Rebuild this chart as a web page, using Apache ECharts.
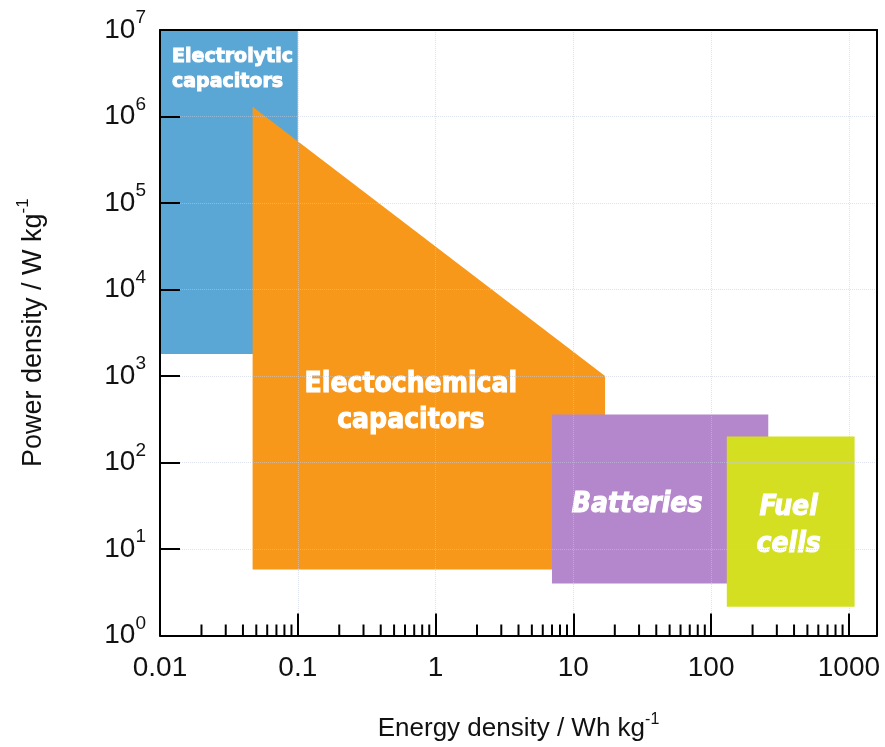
<!DOCTYPE html>
<html>
<head>
<meta charset="utf-8">
<title>Ragone plot</title>
<script src="https://cdn.jsdelivr.net/npm/echarts@6/dist/echarts.min.js"></script>
<style>
  html, body { margin: 0; padding: 0; background: #fff; }
  #chart { width: 885px; height: 747px; }
</style>
</head>
<body>
<div id="chart"></div>
<script>
// Energy-storage technologies: corners of each region as [energy Wh/kg, power W/kg]
const regionNames = ['Electrolytic\ncapacitors', 'Electochemical\ncapacitors', 'Batteries', 'Fuel\ncells'];
const electrolyticCapacitors = [[0.01, 1e7], [0.1, 1e7], [0.1, 1800], [0.01, 1800]];
const electrochemicalCapacitors = [[0.047, 1.3e6], [17, 1000], [17, 5.8], [0.047, 5.8]];
const batteries = [[7, 360], [260, 360], [260, 4], [7, 4]];
const fuelCells = [[130, 200], [1100, 200], [1100, 2.15], [130, 2.15]];
const regionVertices = [electrolyticCapacitors, electrochemicalCapacitors, batteries, fuelCells];

// Axis ranges and the in-between log ticks on the energy axis
const energyRange = [0.01, 1600];
const powerRange = [1, 1e7];
const minorTickDecades = [0.01, 0.1, 1, 10, 100];
const minorTickMultipliers = [2, 3, 4, 5, 6, 7, 8, 9];

const regionColors = ['#5aa7d6', '#f8981a', '#b486cc', '#d3df20'];
// text placement relative to each region's pixel bounding box
const regionLabelStyle = [
  { anchor: 'topleft', dx: 12, dy: 15, size: 19, lh: 25, family: '"DejaVu Sans"', italic: false },
  { anchor: 'center', dx: -18, dy: 65, size: 28, lh: 36, family: '"DejaVu Sans Condensed"', italic: false },
  { anchor: 'center', dx: -23, dy: 6, size: 28, lh: 36, family: '"DejaVu Sans Condensed"', italic: true },
  { anchor: 'center', dx: -2, dy: 5, size: 28, lh: 37, family: '"DejaVu Sans Condensed"', italic: true }
];

const minorTicks = [];
minorTickDecades.forEach(d => minorTickMultipliers.forEach(m => minorTicks.push(+(d * m).toPrecision(6))));

const labelFont = '"Liberation Sans", Arial, sans-serif';
const gridLine = { show: true, lineStyle: { color: '#c3cbdc', type: 'dotted', width: 1, opacity: 0.55 } };

function isDecade(v) {
  const e = Math.log10(v);
  return Math.abs(e - Math.round(e)) < 1e-6;
}

const chart = echarts.init(document.getElementById('chart'), null, { renderer: 'canvas' });

const option = {
  animation: false,
  backgroundColor: '#ffffff',
  grid: { left: 160, right: 8, top: 30, bottom: 110, containLabel: false },
  xAxis: [{
    type: 'log',
    logBase: 10,
    min: energyRange[0],
    max: energyRange[1],
    z: 5,
    name: 'Energy density / Wh kg{s|-1}',
    nameLocation: 'middle',
    nameGap: 76,
    nameTextStyle: {
      fontFamily: labelFont, fontSize: 26, color: '#111',
      rich: { s: { fontFamily: labelFont, fontSize: 16, color: '#111', padding: [0, 0, 19, 0] } }
    },
    axisLine: { show: true, lineStyle: { color: '#000', width: 2 } },
    axisTick: { show: true, inside: true, length: 22, lineStyle: { color: '#000', width: 2 } },
    splitLine: gridLine,
    axisLabel: {
      margin: 19,
      fontFamily: labelFont, fontSize: 28, color: '#111',
      showMaxLabel: false,
      formatter: function (v) {
        if (!isDecade(v)) return '';
        const e = Math.round(Math.log10(v));
        return e < 0 ? Math.pow(10, e).toFixed(-e) : String(Math.pow(10, e));
      }
    }
  }, {
    // top frame line
    type: 'value', position: 'top', min: 0, max: 1, z: 5,
    axisLine: { show: true, onZero: false, lineStyle: { color: '#000', width: 2 } },
    axisTick: { show: false }, axisLabel: { show: false }, splitLine: { show: false }
  }],
  yAxis: [{
    type: 'log',
    logBase: 10,
    min: powerRange[0],
    max: powerRange[1],
    z: 5,
    name: 'Power density / W kg{s|-1}',
    nameLocation: 'middle',
    nameRotate: 90,
    nameGap: 108,
    nameTextStyle: {
      fontFamily: labelFont, fontSize: 27, color: '#111',
      rich: { s: { fontFamily: labelFont, fontSize: 17, color: '#111', padding: [0, 0, 20, 0] } }
    },
    axisLine: { show: true, lineStyle: { color: '#000', width: 2 } },
    axisTick: { show: true, inside: true, length: 20, lineStyle: { color: '#000', width: 2 } },
    splitLine: gridLine,
    axisLabel: {
      margin: 14,
      color: '#111',
      formatter: function (v) {
        if (!isDecade(v)) return '';
        return '{b|10}{s|' + Math.round(Math.log10(v)) + '}';
      },
      rich: {
        b: { fontFamily: labelFont, fontSize: 28, color: '#111' },
        s: { fontFamily: labelFont, fontSize: 19, color: '#111', padding: [0, 0, 24, 0] }
      }
    }
  }, {
    // right frame line
    type: 'value', position: 'right', min: 0, max: 1, z: 5,
    axisLine: { show: true, onZero: false, lineStyle: { color: '#000', width: 2 } },
    axisTick: { show: false }, axisLabel: { show: false }, splitLine: { show: false }
  }],
  series: [{
    name: 'regions',
    type: 'custom',
    xAxisIndex: 0,
    yAxisIndex: 0,
    clip: true,
    z: 2,
    data: regionNames.map((n, i) => ({ name: n, value: [i] })),
    renderItem: function (params, api) {
      const i = params.dataIndex;
      const pts = regionVertices[i].map(p => api.coord(p));
      const xs = pts.map(p => p[0]);
      const ys = pts.map(p => p[1]);
      const left = Math.min(...xs), right = Math.max(...xs);
      const top = Math.min(...ys), bottom = Math.max(...ys);
      const ls = regionLabelStyle[i];
      let tx, ty, align, valign;
      if (ls.anchor === 'topleft') {
        tx = left + ls.dx; ty = top + ls.dy; align = 'left'; valign = 'top';
      } else {
        tx = (left + right) / 2 + ls.dx; ty = (top + bottom) / 2 + ls.dy; align = 'center'; valign = 'middle';
      }
      return {
        type: 'group',
        children: [{
          type: 'polygon',
          shape: { points: pts },
          style: { fill: regionColors[i], stroke: null }
        }, {
          type: 'text',
          x: tx, y: ty,
          z2: 10,
          style: {
            text: regionNames[i],
            fill: '#ffffff',
            stroke: '#ffffff',
            lineWidth: 1,
            font: (ls.italic ? 'italic ' : '') + 'bold ' + ls.size + 'px ' + ls.family,
            lineHeight: ls.lh,
            align: align,
            verticalAlign: valign
          }
        }]
      };
    }
  }, {
    name: 'minor ticks',
    type: 'custom',
    xAxisIndex: 0,
    yAxisIndex: 0,
    z: 6,
    data: minorTicks.map(v => [v]),
    renderItem: function (params, api) {
      const p = api.coord([api.value(0), powerRange[0]]);
      return {
        type: 'line',
        shape: { x1: p[0], y1: p[1], x2: p[0], y2: p[1] - 11 },
        style: { stroke: '#000', lineWidth: 2 }
      };
    }
  }]
};

chart.setOption(option);
</script>
</body>
</html>
